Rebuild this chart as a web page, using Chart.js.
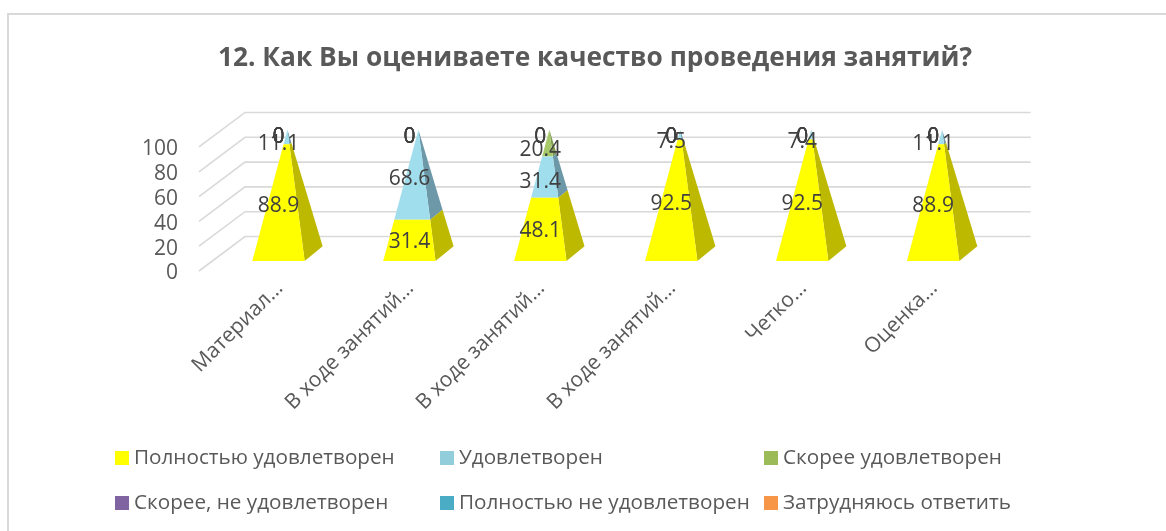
<!DOCTYPE html>
<html><head><meta charset="utf-8">
<style>html,body{margin:0;padding:0;background:#fff}canvas{display:block}</style>
<script src="https://cdn.jsdelivr.net/npm/chart.js@4"></script>
</head><body><canvas id="c" width="1166" height="531"></canvas>
<script>
const titleText = "12. Как Вы оцениваете качество проведения занятий?";
const categories = ["Материал…","В ходе занятий…","В ходе занятий…","В ходе занятий…","Четко…","Оценка…"];
const seriesNames = ["Полностью удовлетворен","Удовлетворен","Скорее удовлетворен","Скорее, не удовлетворен","Полностью не удовлетворен","Затрудняюсь ответить"];
const fullySatisfied = [88.9,31.4,48.1,92.5,92.5,88.9];
const satisfied = [11.1,68.6,31.4,7.5,7.4,11.1];
const ratherSatisfied = [0,0,20.4,0,0,0];
const ratherNot = [0,0,0,0,0,0];
const fullyNot = [0,0,0,0,0,0];
const hardToSay = [0,0,0,0,0,0];
const yTicks = [0,20,40,60,80,100];
const seriesValues = [fullySatisfied,satisfied,ratherSatisfied,ratherNot,fullyNot,hardToSay];
const legendColors = ["#FFFF00","#92CDDC","#9BBB59","#8064A2","#4BACC6","#F79646"];
const frontColors = ["#FFFF00","#A0DEEE","#A7C96A","#8064A2","#4BACC6","#F79646"];
const sideColors = ["#BDB800","#6D98A8","#7E9A4F","#604B7A","#388195","#B97034"];

const DEPTH_X = 46, DEPTH_Y = 34.5;
const FONT = '"Open Sans"';

class Pyramid extends Chart.BarController {
  draw() {
    const meta = this.getMeta(), ctx = this.chart.ctx, s = this.chart.scales.y;
    const y0 = s.getPixelForValue(0), y100 = s.getPixelForValue(100);
    const idx = this.index;
    meta.data.forEach(el => {
      const t0 = (y0 - el.base) / (y0 - y100), t1 = (y0 - el.y) / (y0 - y100);
      if (t1 - t0 <= 0) return;
      const cx = el.x + DEPTH_X / 2, hw = el.width / 2;
      const A = [cx, y100 - DEPTH_Y / 2];
      const FL = [cx - 9 - hw, y0 - 10], FR = [cx - 9 + hw, y0 - 10], RR = [cx - 9 + hw + 18, y0 - 24.7];
      const L = (P, t) => [P[0] + (A[0] - P[0]) * t, P[1] + (A[1] - P[1]) * t];
      const poly = (pts, c) => { ctx.beginPath(); pts.forEach((p, i) => i ? ctx.lineTo(p[0], p[1]) : ctx.moveTo(p[0], p[1])); ctx.closePath(); ctx.fillStyle = c; ctx.fill(); };
      poly([L(FR, t0), L(RR, t0), L(RR, t1), L(FR, t1)], sideColors[idx]);
      poly([L(FL, t0), L(FR, t0), L(FR, t1), L(FL, t1)], frontColors[idx]);
    });
  }
}
Pyramid.id = 'pyramid';
Pyramid.defaults = Chart.BarController.defaults;
Pyramid.overrides = Chart.BarController.overrides;
Chart.register(Pyramid);

const decor = {
  id: 'decor',
  afterLayout(chart) { const t = chart.titleBlock; t.left = 0; t.right = 1190; },
  beforeDatasetsDraw(chart) {
    const ctx = chart.ctx, y = chart.scales.y, a = chart.chartArea;
    ctx.save();
    ctx.strokeStyle = '#D9D9D9'; ctx.lineWidth = 2;
    ctx.beginPath(); ctx.moveTo(8, 531); ctx.lineTo(8, 14); ctx.lineTo(1166, 14); ctx.stroke();
    ctx.lineWidth = 1.6;
    yTicks.forEach(v => {
      const p = y.getPixelForValue(v);
      ctx.beginPath(); ctx.moveTo(a.left, p); ctx.lineTo(a.left + DEPTH_X, p - DEPTH_Y); ctx.lineTo(a.right + DEPTH_X, p - DEPTH_Y); ctx.stroke();
    });
    ctx.restore();
  },
  afterDatasetsDraw(chart) {
    const ctx = chart.ctx;
    ctx.save();
    ctx.font = '21px ' + FONT; ctx.fillStyle = '#404040'; ctx.textAlign = 'center'; ctx.textBaseline = 'middle';
    chart.data.datasets.forEach((d, i) => {
      chart.getDatasetMeta(i).data.forEach((el, j) => {
        ctx.fillText(String(d.data[j]), el.x + 14, (el.y + el.base) / 2 - 10);
      });
    });
    // legend
    const cols = [115, 440, 764], rows = [458, 503];
    ctx.font = '20.7px ' + FONT; ctx.textAlign = 'left'; ctx.textBaseline = 'middle';
    chart.data.datasets.forEach((d, i) => {
      const x = cols[i % 3], yy = rows[Math.floor(i / 3)];
      ctx.fillStyle = d.backgroundColor; ctx.fillRect(x, yy - 7, 14, 14);
      ctx.fillStyle = '#595959'; ctx.fillText(d.label, x + 19, yy);
    });
    ctx.restore();
  }
};

new Chart(document.getElementById('c'), {
  type: 'pyramid',
  data: {
    labels: categories,
    datasets: seriesNames.map((n, i) => ({ label: n, data: seriesValues[i], backgroundColor: legendColors[i], barPercentage: 0.4, categoryPercentage: 1, clip: false }))
  },
  plugins: [decor],
  options: {
    responsive: false, animation: false,
    layout: { padding: { left: 0, right: 181.4, top: 0, bottom: 0 } },
    plugins: {
      legend: { display: false }, tooltip: { enabled: false },
      title: { display: true, text: titleText, color: '#595959', font: { family: FONT, size: 26.3, weight: 'bold', lineHeight: 1.2 }, padding: { top: 43, bottom: 72.4 } }
    },
    scales: {
      x: { stacked: true, grid: { display: false }, border: { display: false },
        afterFit: s => { s.height = 260; },
        ticks: { autoSkip: false, minRotation: 45, maxRotation: 45, padding: -3, labelOffset: 15, color: '#595959', font: { family: FONT, size: 21 } } },
      y: { stacked: true, min: 0, max: 100, grid: { display: false }, border: { display: false },
        afterFit: s => { s.width = 199; },
        ticks: { stepSize: 20, autoSkip: false, padding: 13, labelOffset: 2.5, color: '#595959', font: { family: FONT, size: 21 } } }
    }
  }
});
</script></body></html>
